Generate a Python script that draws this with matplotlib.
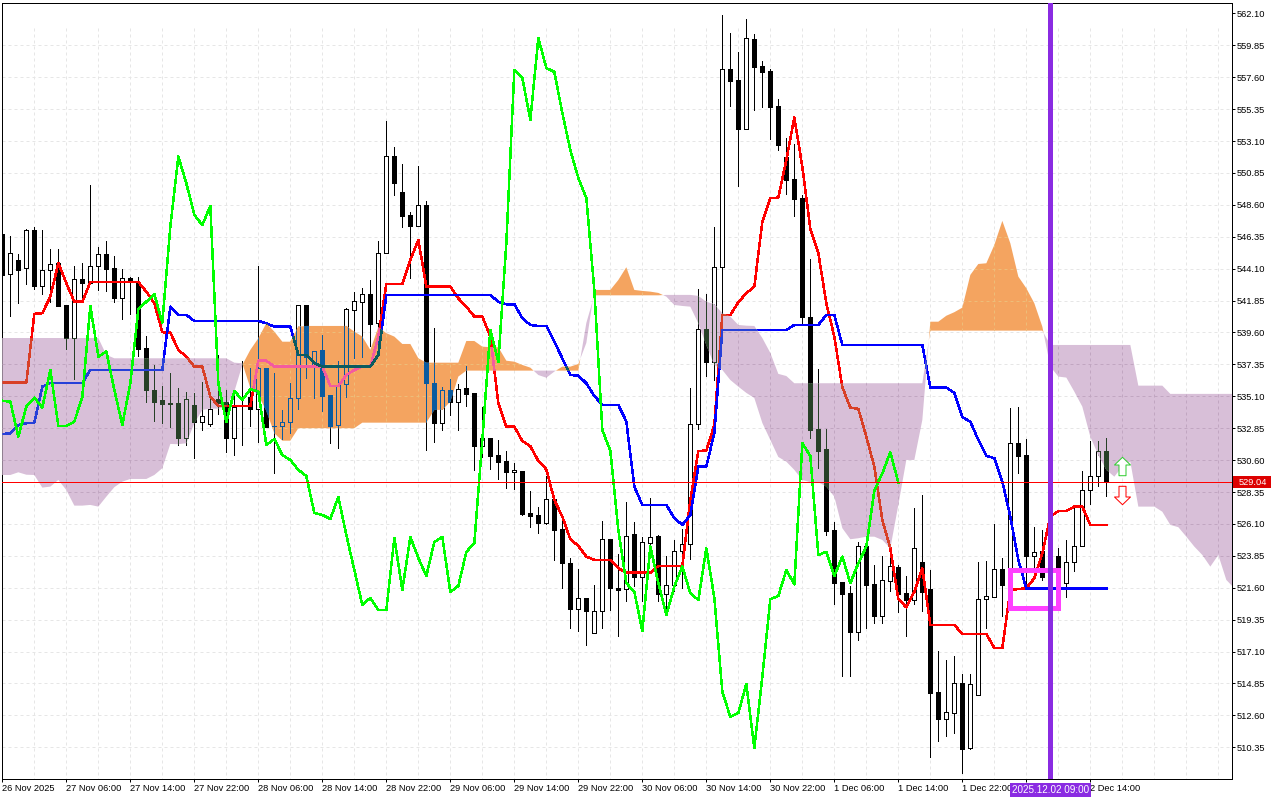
import numpy as np
import matplotlib
matplotlib.use("Agg")
import matplotlib.pyplot as plt
from matplotlib.path import Path
from matplotlib.patches import Rectangle
from matplotlib.transforms import blended_transform_factory

# hourly candles
opens = [
    546.55, 543.71, 544.71, 544.13, 546.83, 542.90, 543.99, 544.50, 541.54, 539.19,
    543.35, 543.11, 544.31, 545.12, 544.13, 542.06, 543.42, 543.14, 538.49, 535.53,
    534.84, 534.63, 534.61, 532.18, 534.47, 533.31, 533.17, 534.89, 534.70, 532.18,
    534.45, 535.07, 534.23, 537.08, 533.01, 533.00, 533.27, 534.96, 541.54, 537.19,
    538.37, 535.19, 533.06, 535.95, 541.17, 541.77, 542.32, 540.25, 545.19, 552.03,
    549.49, 547.87, 547.13, 548.57, 536.02, 533.24, 535.55, 534.70, 535.69, 535.31,
    531.62, 532.14, 530.96, 530.52, 529.74, 529.84, 526.85, 526.71, 526.19, 527.84,
    525.72, 523.33, 520.12, 520.86, 518.39, 519.94, 525.02, 521.56, 521.49, 525.37,
    522.38, 524.78, 525.23, 521.18, 521.77, 524.17, 524.67, 533.13, 539.85, 537.50,
    544.20, 558.16, 557.41, 553.97, 560.30, 558.37, 558.04, 555.55, 551.98, 550.43,
    549.07, 540.67, 532.80, 531.39, 525.67, 521.99, 521.21, 518.50, 524.53, 521.84,
    519.59, 522.10, 523.07, 521.21, 520.72, 523.40, 521.51, 514.23, 512.37, 512.79,
    514.86, 510.32, 514.02, 520.79, 520.97, 522.92, 522.85, 531.79, 530.96, 523.86,
    524.19, 522.36, 523.84, 521.92, 523.44, 524.53, 528.47, 529.46, 531.22,
]
highs = [
    546.69, 546.41, 545.14, 546.90, 547.04, 546.83, 545.47, 545.47, 541.54, 544.29,
    544.48, 550.00, 545.61, 546.03, 544.98, 544.06, 543.52, 543.52, 539.33, 537.29,
    535.83, 536.72, 535.67, 535.41, 535.32, 536.09, 535.07, 537.99, 535.55, 535.32,
    537.59, 537.08, 544.29, 537.10, 536.75, 534.14, 536.02, 541.54, 541.54, 538.30,
    539.43, 535.19, 537.59, 541.33, 542.46, 542.72, 543.30, 546.05, 554.52, 552.66,
    551.46, 548.08, 551.34, 548.88, 539.90, 535.74, 536.30, 535.95, 537.24, 535.34,
    534.37, 532.16, 532.02, 531.25, 530.38, 529.84, 528.42, 527.28, 529.48, 527.86,
    526.73, 523.68, 522.92, 520.88, 521.80, 526.29, 525.04, 523.96, 527.63, 526.22,
    525.18, 527.91, 525.30, 523.84, 524.95, 525.75, 535.67, 542.67, 542.32, 547.02,
    561.99, 560.70, 559.38, 561.71, 560.65, 558.75, 558.18, 556.07, 553.32, 552.90,
    549.30, 544.79, 537.03, 532.80, 526.22, 522.01, 521.73, 524.81, 524.55, 523.21,
    523.84, 523.84, 523.21, 522.41, 527.20, 528.14, 522.85, 517.12, 516.51, 516.77,
    515.52, 515.52, 523.40, 523.49, 526.10, 523.70, 534.26, 534.37, 532.07, 525.87,
    525.67, 524.62, 524.38, 524.97, 527.20, 529.86, 531.95, 531.95, 532.16,
]
lows = [
    540.84, 540.79, 541.70, 543.02, 542.69, 542.32, 541.77, 541.49, 538.46, 536.34,
    541.77, 543.09, 542.60, 542.53, 541.77, 540.58, 540.91, 537.94, 534.72, 533.38,
    533.24, 532.96, 531.69, 531.69, 530.75, 532.75, 533.01, 533.85, 531.18, 530.98,
    531.67, 533.01, 531.90, 532.94, 529.69, 532.07, 532.49, 534.19, 536.39, 534.98,
    534.07, 531.83, 531.48, 535.07, 537.78, 537.90, 538.65, 538.37, 545.19, 549.30,
    547.06, 543.47, 547.11, 531.32, 531.90, 532.73, 533.78, 532.73, 534.42, 529.91,
    530.84, 529.98, 529.27, 528.66, 528.57, 526.73, 525.91, 525.48, 526.10, 523.56,
    521.61, 518.78, 518.57, 517.59, 518.39, 518.78, 520.03, 518.22, 520.69, 521.75,
    520.69, 524.03, 520.69, 519.68, 521.37, 521.58, 523.61, 532.78, 536.56, 536.25,
    540.84, 555.57, 549.95, 553.97, 555.29, 555.50, 553.27, 552.47, 549.37, 547.82,
    540.29, 532.18, 530.07, 525.32, 520.48, 515.40, 515.40, 517.94, 518.78, 519.09,
    519.14, 521.39, 519.91, 518.22, 520.46, 519.98, 509.69, 510.82, 511.17, 511.38,
    508.56, 510.21, 514.04, 518.76, 520.97, 519.63, 522.85, 529.72, 521.58, 522.85,
    522.15, 521.80, 522.85, 520.97, 522.78, 524.53, 527.49, 528.80, 528.07,
]
closes = [
    543.66, 545.19, 544.03, 546.83, 542.90, 543.99, 544.41, 541.49, 539.19, 543.35,
    543.11, 544.27, 545.12, 544.10, 542.06, 543.42, 543.18, 538.46, 535.53, 534.72,
    534.58, 534.58, 532.18, 534.89, 533.29, 533.69, 534.19, 534.61, 532.18, 534.37,
    534.38, 534.23, 537.08, 532.96, 532.97, 533.27, 534.96, 541.52, 537.90, 538.28,
    535.15, 533.01, 535.90, 541.24, 541.80, 542.30, 540.22, 545.19, 552.03, 550.17,
    547.84, 547.13, 548.57, 536.02, 533.24, 535.55, 534.70, 535.60, 535.29, 531.62,
    532.14, 530.91, 530.49, 529.79, 529.89, 526.80, 526.68, 526.19, 527.84, 525.69,
    523.37, 520.12, 520.86, 519.98, 519.98, 525.02, 521.56, 521.46, 525.23, 522.38,
    524.81, 525.16, 521.18, 521.77, 524.17, 524.67, 533.13, 539.83, 537.50, 544.20,
    558.16, 557.36, 553.97, 560.35, 558.35, 557.99, 555.50, 552.82, 550.36, 549.02,
    540.72, 532.73, 531.27, 525.63, 521.96, 521.18, 518.50, 524.53, 521.80, 519.63,
    522.13, 523.14, 521.18, 520.72, 524.38, 521.32, 514.20, 512.37, 512.82, 514.86,
    510.25, 514.79, 520.79, 521.00, 522.90, 521.82, 531.79, 530.91, 523.86, 524.14,
    522.38, 523.77, 522.97, 523.44, 524.53, 528.47, 529.46, 531.22, 529.04,
]

# ichimoku lines
tenkan = [
    536.06, 536.06, 536.06, 536.06, 540.91, 540.96, 542.13, 544.48, 543.07, 541.77,
    541.77, 543.16, 543.16, 543.16, 543.16, 543.16, 543.16, 543.16, 542.48, 541.66,
    539.62, 539.59, 538.37, 537.90, 537.19, 537.19, 535.07, 534.42, 534.42, 534.42,
    534.42, 534.42, 537.61, 537.61, 537.19, 537.19, 537.19, 537.19, 537.19, 537.19,
    537.19, 535.83, 535.83, 536.60, 536.96, 537.19, 537.19, 539.31, 543.02, 543.02,
    543.02, 544.71, 546.13, 542.83, 542.83, 542.83, 542.83, 542.01, 541.42, 540.72,
    540.72, 539.31, 534.61, 532.96, 532.96, 531.95, 531.58, 530.54, 529.95, 527.79,
    526.61, 525.02, 524.55, 523.79, 523.56, 523.56, 523.56, 522.97, 522.66, 522.66,
    522.66, 522.66, 523.14, 523.14, 523.14, 523.14, 527.79, 531.25, 531.27, 533.08,
    540.84, 540.84, 541.73, 542.37, 542.83, 547.42, 549.07, 549.11, 551.77, 554.75,
    551.29, 546.90, 545.19, 541.66, 539.31, 535.74, 534.30, 534.21, 532.25, 530.14,
    526.38, 524.38, 520.79, 520.22, 521.32, 522.97, 518.98, 518.98, 518.98, 518.98,
    518.34, 518.34, 518.34, 518.34, 517.35, 517.35, 521.44, 521.51, 521.56, 522.27,
    524.03, 526.61, 527.01, 527.01, 527.32, 527.32, 526.03, 526.03, 526.03,
]
kijun = [
    532.44, 532.49, 533.08, 533.20, 533.24, 535.78, 536.04, 536.04, 536.04, 536.04,
    536.04, 536.96, 536.96, 536.96, 536.96, 536.96, 536.96, 536.96, 536.96, 536.96,
    536.96, 541.42, 540.84, 540.84, 540.41, 540.41, 540.41, 540.41, 540.41, 540.41,
    540.41, 540.41, 540.41, 540.25, 540.01, 540.01, 540.01, 538.02, 538.02, 537.43,
    537.19, 537.19, 537.19, 537.19, 537.19, 537.19, 537.19, 538.02, 542.25, 542.25,
    542.25, 542.25, 542.25, 542.25, 542.25, 542.25, 542.25, 542.25, 542.25, 542.25,
    542.25, 542.25, 541.77, 541.59, 541.59, 540.60, 540.13, 540.06, 540.06, 538.95,
    537.78, 536.60, 536.56, 536.02, 535.12, 534.49, 534.49, 534.49, 533.33, 528.73,
    527.44, 527.44, 527.44, 527.44, 526.50, 526.03, 526.73, 530.14, 530.14, 532.52,
    539.78, 539.78, 539.78, 539.78, 539.78, 539.78, 539.78, 539.78, 539.78, 540.13,
    540.13, 540.13, 540.13, 540.84, 540.84, 538.72, 538.72, 538.72, 538.72, 538.72,
    538.72, 538.72, 538.72, 538.72, 538.72, 538.72, 535.71, 535.71, 535.71, 535.34,
    533.64, 533.31, 532.02, 530.91, 530.73, 529.08, 526.61, 523.56, 521.53, 521.53,
    521.53, 521.53, 521.53, 521.53, 521.53, 521.53, 521.53, 521.53, 521.53,
]
chikou = [
    534.79, 534.72, 532.25, 534.37, 535.00, 534.30, 536.96, 533.01, 533.01, 533.31,
    535.07, 541.47, 537.90, 538.25, 535.55, 533.08, 536.02, 541.24, 541.77, 542.30,
    540.29, 547.06, 552.00, 550.12, 547.89, 547.18, 548.52, 536.02, 533.27, 535.48,
    534.84, 535.60, 535.43, 531.67, 532.09, 530.96, 530.61, 529.91, 529.48, 526.87,
    526.73, 526.45, 528.00, 525.32, 522.85, 520.39, 520.88, 520.03, 520.03, 525.11,
    521.44, 525.18, 523.70, 522.43, 524.83, 525.18, 521.30, 521.73, 524.12, 524.76,
    532.02, 539.78, 537.52, 545.91, 558.11, 557.55, 554.59, 560.37, 558.25, 557.97,
    555.08, 552.47, 550.50, 549.09, 542.60, 532.73, 531.25, 525.67, 521.92, 521.32,
    518.55, 524.50, 521.92, 519.68, 521.68, 523.09, 521.21, 520.74, 524.38, 520.88,
    514.27, 512.49, 512.77, 514.82, 510.30, 515.33, 520.79, 521.02, 522.85, 521.84,
    531.79, 530.89, 523.91, 524.14, 522.43, 523.79, 521.92, 523.33, 524.50, 528.45,
    529.67, 531.15, 529.01,
]
senkou_a = [
    529.55, 529.55, 529.74, 529.57, 529.55, 528.66, 528.73, 529.20, 528.49, 527.39,
    527.39, 527.44, 527.32, 528.02, 528.69, 529.08, 529.27, 529.27, 529.27, 529.55,
    530.03, 531.74, 531.72, 531.79, 533.20, 534.14, 534.23, 534.23, 534.37, 535.43,
    537.31, 538.37, 539.19, 540.25, 539.66, 538.95, 538.95, 540.01, 540.06, 540.06,
    540.06, 540.06, 540.06, 540.06, 539.66, 539.31, 538.37, 539.97, 539.55, 539.31,
    538.79, 538.79, 537.78, 537.47, 537.47, 537.47, 537.47, 537.47, 539.00, 539.00,
    538.60, 538.56, 538.56, 537.61, 537.54, 537.31, 537.12, 536.60, 536.41, 536.84,
    537.19, 537.19, 537.38, 538.86, 542.60, 542.60, 542.60, 543.30, 544.20, 542.60,
    542.53, 542.48, 542.39, 542.13, 541.54, 541.47, 541.42, 540.25, 538.72, 537.31,
    536.96, 536.25, 535.78, 535.34, 534.98, 533.22, 532.02, 530.82, 530.49, 529.91,
    529.20, 529.04, 529.04, 528.73, 528.02, 525.80, 525.02, 525.09, 525.20, 525.20,
    524.97, 524.38, 527.44, 530.61, 530.61, 533.43, 540.36, 540.36, 540.78, 541.03,
    541.35, 543.66, 544.43, 544.48, 545.77, 547.47, 545.89, 543.54, 542.72, 541.66,
    540.01, 537.19, 536.49, 536.42, 535.43, 534.37, 532.25, 530.96, 529.91, 529.43,
    530.14, 530.49, 527.32, 527.32, 527.32, 526.96, 526.03, 525.87, 525.20, 524.50,
    523.91, 523.09, 523.91, 522.15, 521.56,
]
senkou_b = [
    539.21, 539.21, 539.21, 539.21, 539.21, 539.21, 539.21, 539.21, 539.21, 539.21,
    539.21, 539.21, 539.21, 538.02, 537.78, 537.78, 537.78, 537.78, 537.78, 537.78,
    537.78, 537.78, 537.78, 537.78, 537.78, 537.78, 537.78, 537.78, 537.78, 537.47,
    537.43, 535.69, 535.19, 534.07, 532.49, 531.97, 531.97, 532.85, 532.85, 532.85,
    532.85, 532.85, 532.85, 532.85, 532.85, 533.24, 533.24, 533.24, 533.24, 533.24,
    533.24, 533.24, 533.24, 533.24, 534.14, 534.14, 534.72, 536.49, 536.91, 536.91,
    536.91, 536.91, 536.91, 536.91, 536.91, 536.91, 536.91, 536.91, 536.91, 536.91,
    536.91, 536.91, 536.91, 540.27, 542.22, 542.22, 542.22, 542.22, 542.22, 542.22,
    542.22, 542.22, 542.22, 542.25, 542.25, 542.25, 542.25, 542.18, 541.77, 541.59,
    540.96, 540.72, 540.13, 540.08, 540.06, 539.21, 538.16, 536.68, 536.53, 536.02,
    536.02, 536.02, 536.02, 536.02, 536.02, 536.02, 536.02, 536.02, 536.02, 536.02,
    536.02, 536.02, 536.02, 536.02, 536.02, 536.02, 539.73, 539.73, 539.73, 539.73,
    539.73, 539.73, 539.73, 539.73, 539.73, 539.73, 539.73, 539.73, 539.73, 539.73,
    539.73, 538.72, 538.72, 538.72, 538.72, 538.72, 538.72, 538.72, 538.72, 538.72,
    538.72, 538.72, 535.85, 535.85, 535.85, 535.85, 535.27, 535.27, 535.27, 535.27,
    535.27, 535.27, 535.27, 535.27, 535.27,
]

price_ticks = [562.10, 559.85, 557.60, 555.35, 553.10, 550.85, 548.60, 546.35,
               544.10, 541.85, 539.60, 537.35, 535.10, 532.85, 530.60, 528.35,
               526.10, 523.85, 521.60, 519.35, 517.10, 514.85, 512.60, 510.35]
# the 2 Dec 06:00 label sits under the crosshair time box in the reference
time_labels = ["26 Nov 2025", "27 Nov 06:00", "27 Nov 14:00", "27 Nov 22:00",
               "28 Nov 06:00", "28 Nov 14:00", "28 Nov 22:00", "29 Nov 06:00",
               "29 Nov 14:00", "29 Nov 22:00", "30 Nov 06:00", "30 Nov 14:00",
               "30 Nov 22:00", "1 Dec 06:00", "1 Dec 14:00", "1 Dec 22:00",
               "", "2 Dec 14:00"]

bid_price = 529.04
marked_bar = 131
marked_time = "2025.12.02 09:00"
box_bars = (126, 132)
box_prices = (520.14, 522.82)
arrow_bar = 140
arrow_up_price = 530.15
arrow_down_price = 528.11

PX = 0.72  # one pixel in points at dpi 100
LINE_W = 1.5 * PX
ORANGE = "#F4A460"
THISTLE = "#D8BFD8"
VIOLET = "#8A2BE2"
GRID = "#E6E6E6"

plt.rcParams["font.family"] = ["Liberation Sans", "DejaVu Sans"]
plt.rcParams["font.size"] = 6.7

fig = plt.figure(figsize=(12.8, 8), dpi=100)
ax = fig.add_axes([2.33 / 1280, (800 - 779.3) / 800, 1230 / 1280, 776.8 / 800])

bars = np.arange(len(opens))
opens_a = np.array(opens)
highs_a = np.array(highs)
lows_a = np.array(lows)
closes_a = np.array(closes)
grid_x = np.arange(4, 154, 4)


def tint(color, cloud):
    # the terminal paints the cloud with an xor, so whatever lies under it flips
    if cloud is None:
        return color
    c = int(color[1:], 16)
    k = int(cloud[1:], 16) ^ 0xFFFFFF
    return "#%06X" % (c ^ k)


def draw_layer(cloud=None, clip=None, z=2):
    drawn = []
    drawn.append(ax.hlines(price_ticks[1:], 0, 153.75, colors=tint(GRID, cloud),
                           linewidth=PX, linestyles=(0, (3, 3)), zorder=z))
    drawn.append(ax.vlines(grid_x, 508, 561.29, colors=tint(GRID, cloud),
                           linewidth=PX, linestyles=(0, (3, 3)), zorder=z))
    drawn.append(ax.vlines(bars, lows_a, highs_a, colors=tint("#000000", cloud),
                           linewidth=PX, zorder=z + 0.1, antialiased=False))
    up = closes_a >= opens_a
    for mask, face in ((up, "#FFFFFF"), (~up, "#000000")):
        body = ax.bar(bars[mask], np.abs(closes_a - opens_a)[mask],
                      bottom=np.minimum(opens_a, closes_a)[mask], width=0.5,
                      facecolor=tint(face, cloud), edgecolor=tint("#000000", cloud),
                      linewidth=PX, zorder=z + 0.2, antialiased=False)
        drawn.extend(body.patches)
    drawn.extend(ax.plot(bars, tenkan, color=tint("#FF0000", cloud), linewidth=LINE_W,
                         zorder=z + 0.3, antialiased=False))
    drawn.extend(ax.plot(bars, kijun, color=tint("#0000FF", cloud), linewidth=LINE_W,
                         zorder=z + 0.4, antialiased=False))
    if clip is not None:
        for artist in drawn:
            artist.set_clip_path(clip, ax.transData)


draw_layer()

# cloud
span = np.arange(len(senkou_a))
a = np.array(senkou_a)
b = np.array(senkou_b)
bull = ax.fill_between(span, a, b, where=a >= b, interpolate=True, color=ORANGE, linewidth=0, zorder=4)
bear = ax.fill_between(span, a, b, where=a <= b, interpolate=True, color=THISTLE, linewidth=0, zorder=4)
draw_layer(ORANGE, Path.make_compound_path(*bull.get_paths()), 4.5)
draw_layer(THISTLE, Path.make_compound_path(*bear.get_paths()), 4.5)

ax.plot(np.arange(len(chikou)), chikou, color="#00FF00", linewidth=LINE_W, zorder=6, antialiased=False)

ax.axhline(bid_price, color="#FF0000", linewidth=PX, zorder=7)

ax.add_patch(Rectangle((box_bars[0], box_prices[0]), box_bars[1] - box_bars[0],
                       box_prices[1] - box_prices[0], fill=False, edgecolor="#FF40FF",
                       linewidth=5 * PX, joinstyle="miter", zorder=8))
ax.axvline(marked_bar, color=VIOLET, linewidth=5 * PX, zorder=9)

# signal arrows
up_arrow = Path([(0, 9.2), (8, 1.5), (3.5, 1.5), (3.5, -9.2), (-3.5, -9.2), (-3.5, 1.5), (-8, 1.5), (0, 9.2)], closed=True)
down_arrow = Path([(0, -9.2), (8, -1.5), (3.5, -1.5), (3.5, 9.2), (-3.5, 9.2), (-3.5, -1.5), (-8, -1.5), (0, -9.2)], closed=True)
ax.plot([arrow_bar], [arrow_up_price], marker=up_arrow, markersize=13.25, markerfacecolor="white",
        markeredgecolor="#32CD32", markeredgewidth=PX, zorder=10)
ax.plot([arrow_bar], [arrow_down_price], marker=down_arrow, markersize=13.25, markerfacecolor="white",
        markeredgecolor="#FF0000", markeredgewidth=PX, zorder=10)

ax.set_xlim(0, 153.75)
ax.set_ylim(508.09, 562.87)

ax.yaxis.tick_right()
ax.set_yticks(price_ticks)
ax.set_yticklabels(["%.2f" % p for p in price_ticks])
ax.set_xticks(np.arange(0, 8 * len(time_labels), 8))
ax.set_xticklabels(time_labels, ha="left")
ax.tick_params(axis="y", length=3 * PX, width=PX, pad=1.5 * PX)
ax.tick_params(axis="x", length=3 * PX, width=PX, pad=2 * PX)
for side in ax.spines.values():
    side.set_linewidth(PX)

# current price and crosshair labels
price_tag = blended_transform_factory(ax.transAxes, ax.transData)
ax.add_patch(Rectangle((1.0005, bid_price - 0.43), 0.031, 0.86, transform=price_tag,
                       facecolor="#DD0000", edgecolor="none", clip_on=False, zorder=11))
ax.annotate("%.2f" % bid_price, xy=(1, bid_price), xycoords=("axes fraction", "data"),
            xytext=(4.2, 0), textcoords="offset points", ha="left", va="center", color="white", zorder=12)
ax.annotate(marked_time, xy=(marked_bar, 0), xycoords=("data", "axes fraction"),
            xytext=(0, -7.5), textcoords="offset points", ha="center", va="center", color="white",
            fontsize=7.1, bbox=dict(boxstyle="square,pad=0.2", facecolor=VIOLET, edgecolor="none"), zorder=12)

fig.savefig("out.png", dpi=100)
